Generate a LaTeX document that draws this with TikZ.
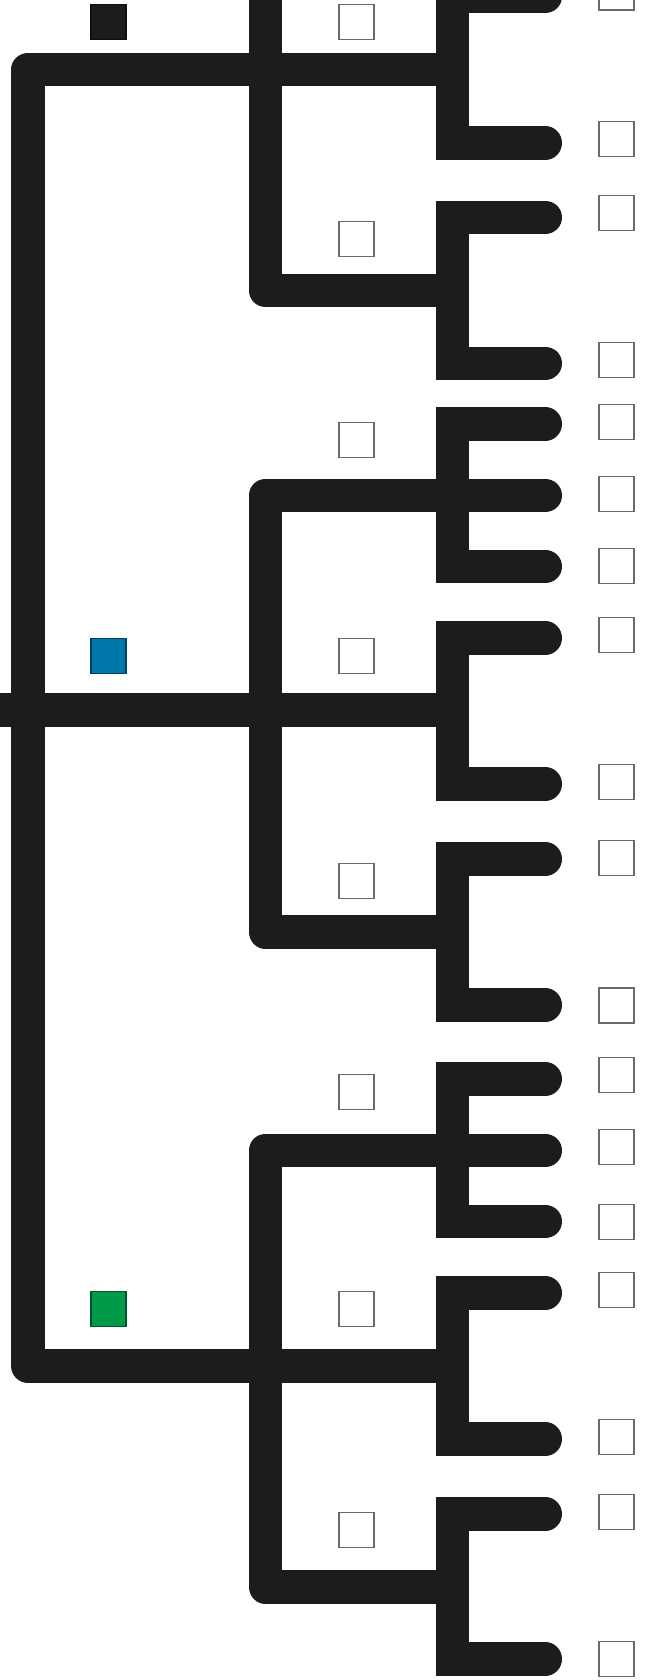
\documentclass[tikz,border=0pt]{standalone}
\definecolor{bar}{HTML}{1C1C1C}
\definecolor{boxline}{HTML}{6A6A6A}
\definecolor{tblue}{HTML}{0077AA}
\definecolor{tgreen}{HTML}{009A48}
\begin{document}
\begin{tikzpicture}[x=1pt,y=-1pt,
  branch/.style={line width=33.5pt, draw=bar, line join=round, line cap=butt},
  tip/.style={line width=33.5pt, draw=bar, line join=miter, line cap=round},
  ebox/.style={draw=boxline, line width=1.2pt, fill=white, minimum size=35pt, inner sep=0pt, outer sep=0pt},
  cbox/.style={draw=#1!55!black, fill=#1, line width=1.2pt, minimum size=35pt, inner sep=0pt, outer sep=0pt}]
\useasboundingbox (0,0) rectangle (645,1680);
\clip (0,0) rectangle (645,1680);
\fill[white] (0,0) rectangle (645,1680);

% root level
\coordinate (rootin) at (0,710);
\coordinate (rootTop) at (28,69.7);
\coordinate (rootBot) at (28,1366);
\coordinate (cA) at (452.5,69.7);
\coordinate (cB) at (452.5,710);
\coordinate (cC) at (452.5,1366);
\draw[branch] (cA) -- (rootTop) -- (rootBot) -- (cC);
\draw[branch] (rootin) -- (cB);

% second level
\foreach \n/\ya/\yb in {A/-150/290.3, B/495.5/932, C/1150.5/1587} {
  \coordinate (\n u) at (452.5,\ya);
  \coordinate (\n uc) at (265.5,\ya);
  \coordinate (\n lc) at (265.5,\yb);
  \coordinate (\n l) at (452.5,\yb);
  \draw[branch] (\n u) -- (\n uc) -- (\n lc) -- (\n l);
}

% third level (leaf groups)
\foreach \n/\ya/\yb in {g1/-3.5/143, g2/217.3/363.3, g3/424/566.5, g4/638/784, g5/859/1005, g6/1079/1221.5, g7/1293/1439, g8/1514/1659} {
  \coordinate (\n t) at (545.25,\ya);
  \coordinate (\n a) at (452.5,\ya);
  \coordinate (\n b) at (452.5,\yb);
  \coordinate (\n e) at (545.25,\yb);
  \draw[tip] (\n t) -- (\n a) -- (\n b) -- (\n e);
}
\foreach \n/\y in {m3/495.5, m6/1150.5} {
  \coordinate (\n a) at (452.5,\y);
  \coordinate (\n e) at (545.25,\y);
  \draw[tip] (\n a) -- (\n e);
}

% coloured squares
\node[cbox=bar] (k1) at (108.5,22) {};
\node[cbox=tblue] (k2) at (108.5,656.3) {};
\node[cbox=tgreen] (k3) at (108.5,1308.7) {};

% middle empty boxes
\foreach \i/\y in {1/22, 2/239, 3/439.7, 4/656.3, 5/881, 6/1092.3, 7/1308.7, 8/1530} {
  \node[ebox] (mb\i) at (356.5,\y) {};
}

% right empty boxes
\foreach \i/\y in {1/-7.5, 2/139.3, 3/213, 4/360, 5/421.7, 6/494.3, 7/566.3, 8/635, 9/782, 10/858, 11/1005.5, 12/1074.7, 13/1146.7, 14/1221.7, 15/1290.3, 16/1437.3, 17/1512.3, 18/1659.3} {
  \node[ebox] (rb\i) at (616.5,\y) {};
}
\end{tikzpicture}
\end{document}
